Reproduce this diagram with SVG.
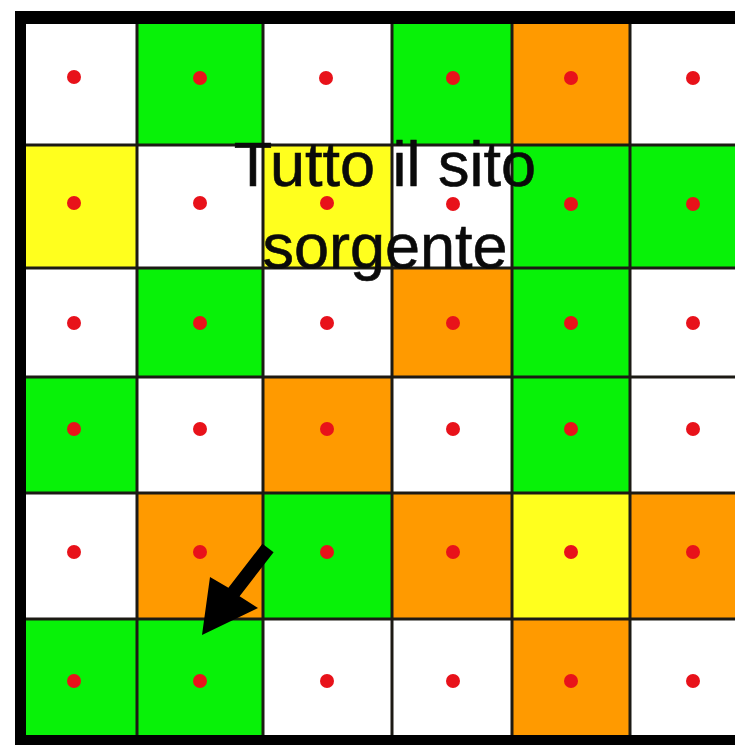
<svg xmlns="http://www.w3.org/2000/svg" width="735" height="745" viewBox="0 0 735 745">
<style>
.w{fill:#ffffff}.g{fill:#08f208}.o{fill:#ff9a00}.y{fill:#ffff1e}
.ln{stroke:#1c1a14;stroke-width:3;fill:none}
.d{fill:#e8121a}
.t{font-family:"Liberation Sans",Arial,sans-serif;font-size:63px;fill:#0a0a0a;stroke:#0a0a0a;stroke-width:0.6;text-anchor:middle}
</style>
<rect x="0" y="0" width="735" height="745" fill="#fff"/>
<g id="cells">
<rect class="w" x="26" y="24" width="111" height="121"/>
<rect class="g" x="137" y="24" width="126" height="121"/>
<rect class="w" x="263" y="24" width="129" height="121"/>
<rect class="g" x="392" y="24" width="120" height="121"/>
<rect class="o" x="512" y="24" width="118" height="121"/>
<rect class="w" x="630" y="24" width="105" height="121"/>

<rect class="y" x="26" y="145" width="111" height="123"/>
<rect class="w" x="137" y="145" width="126" height="123"/>
<rect class="y" x="263" y="145" width="129" height="123"/>
<rect class="w" x="392" y="145" width="120" height="123"/>
<rect class="g" x="512" y="145" width="118" height="123"/>
<rect class="g" x="630" y="145" width="105" height="123"/>

<rect class="w" x="26" y="268" width="111" height="109"/>
<rect class="g" x="137" y="268" width="126" height="109"/>
<rect class="w" x="263" y="268" width="129" height="109"/>
<rect class="o" x="392" y="268" width="120" height="109"/>
<rect class="g" x="512" y="268" width="118" height="109"/>
<rect class="w" x="630" y="268" width="105" height="109"/>

<rect class="g" x="26" y="377" width="111" height="116"/>
<rect class="w" x="137" y="377" width="126" height="116"/>
<rect class="o" x="263" y="377" width="129" height="116"/>
<rect class="w" x="392" y="377" width="120" height="116"/>
<rect class="g" x="512" y="377" width="118" height="116"/>
<rect class="w" x="630" y="377" width="105" height="116"/>

<rect class="w" x="26" y="493" width="111" height="126"/>
<rect class="o" x="137" y="493" width="126" height="126"/>
<rect class="g" x="263" y="493" width="129" height="126"/>
<rect class="o" x="392" y="493" width="120" height="126"/>
<rect class="y" x="512" y="493" width="118" height="126"/>
<rect class="o" x="630" y="493" width="105" height="126"/>

<rect class="g" x="26" y="619" width="111" height="116"/>
<rect class="g" x="137" y="619" width="126" height="116"/>
<rect class="w" x="263" y="619" width="129" height="116"/>
<rect class="w" x="392" y="619" width="120" height="116"/>
<rect class="o" x="512" y="619" width="118" height="116"/>
<rect class="w" x="630" y="619" width="105" height="116"/>
</g>
<g id="dots">
<circle class="d" cx="74" cy="77" r="7"/><circle class="d" cx="200" cy="78" r="7"/><circle class="d" cx="326" cy="78" r="7"/><circle class="d" cx="453" cy="78" r="7"/><circle class="d" cx="571" cy="78" r="7"/><circle class="d" cx="693" cy="78" r="7"/>
<circle class="d" cx="74" cy="203" r="7"/><circle class="d" cx="200" cy="203" r="7"/><circle class="d" cx="327" cy="203" r="7"/><circle class="d" cx="453" cy="204" r="7"/><circle class="d" cx="571" cy="204" r="7"/><circle class="d" cx="693" cy="204" r="7"/>
<circle class="d" cx="74" cy="323" r="7"/><circle class="d" cx="200" cy="323" r="7"/><circle class="d" cx="327" cy="323" r="7"/><circle class="d" cx="453" cy="323" r="7"/><circle class="d" cx="571" cy="323" r="7"/><circle class="d" cx="693" cy="323" r="7"/>
<circle class="d" cx="74" cy="429" r="7"/><circle class="d" cx="200" cy="429" r="7"/><circle class="d" cx="327" cy="429" r="7"/><circle class="d" cx="453" cy="429" r="7"/><circle class="d" cx="571" cy="429" r="7"/><circle class="d" cx="693" cy="429" r="7"/>
<circle class="d" cx="74" cy="552" r="7"/><circle class="d" cx="200" cy="552" r="7"/><circle class="d" cx="327" cy="552" r="7"/><circle class="d" cx="453" cy="552" r="7"/><circle class="d" cx="571" cy="552" r="7"/><circle class="d" cx="693" cy="552" r="7"/>
<circle class="d" cx="74" cy="681" r="7"/><circle class="d" cx="200" cy="681" r="7"/><circle class="d" cx="327" cy="681" r="7"/><circle class="d" cx="453" cy="681" r="7"/><circle class="d" cx="571" cy="681" r="7"/><circle class="d" cx="693" cy="681" r="7"/>
</g>
<g id="gridlines">
<path class="ln" d="M137 24V735M263 24V735M392 24V735M512 24V735M630 24V735"/>
<path class="ln" d="M26 145H735M26 268H735M26 377H735M26 493H735M26 619H735"/>
</g>
<g id="border" fill="#000">
<rect x="15" y="11" width="720" height="13"/>
<rect x="15" y="11" width="11" height="734"/>
<rect x="15" y="735" width="720" height="10"/>
</g>
<g id="label">
<text class="t" x="385" y="186">Tutto il sito</text>
<text class="t" x="385" y="268">sorgente</text>
</g>
<g id="connectors">
<polygon fill="#000" points="262.4,543.8 273.6,552.2 239.6,596.2 258,608 202,635 210,577 228.4,587.8"/>
</g>
</svg>
